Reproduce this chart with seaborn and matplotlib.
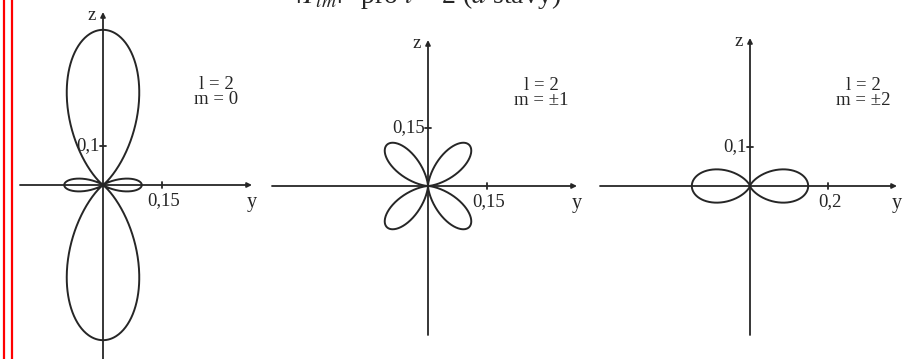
import numpy as np
import matplotlib
matplotlib.use("Agg")
import matplotlib.pyplot as plt
import seaborn as sns
from math import factorial, pi
from matplotlib.lines import Line2D

# Angular momentum quantum numbers of the three d-states
l_values = [2, 2, 2]
m_values = [0, 1, 2]
m_labels = ["0", "±1", "±2"]

# Axis ticks (value on y, value on z) and their printed labels
y_ticks = [0.15, 0.15, 0.2]
y_tick_labels = ["0,15", "0,15", "0,2"]
z_ticks = [0.1, 0.15, 0.1]
z_tick_labels = ["0,1", "0,15", "0,1"]

title = r"$|Y_{lm}|^2$ pro $l$ = 2 ($d$ stavy)"


def ylm_sq(l, m, theta):
    """|Y_lm(theta, phi)|^2 (independent of phi)."""
    x = np.cos(theta)
    p = np.polynomial.legendre.Legendre.basis(l).deriv(m)(x)
    plm = (1 - x ** 2) ** (m / 2) * p
    norm = (2 * l + 1) / (4 * pi) * factorial(l - m) / factorial(l + m)
    return norm * plm ** 2


sns.set_theme(style="white")
plt.rcParams["font.family"] = ["Liberation Serif", "DejaVu Serif"]
plt.rcParams["mathtext.fontset"] = "stix"

W, H = 915, 359
S = 390.0  # pixels per unit of |Y|^2
ink = "#262626"

fig = plt.figure(figsize=(W / 100, H / 100), dpi=100)

# panel geometry in pixels: origin (x, y from top), horizontal span, axis extents
origins = [(103, 185), (428, 186), (750, 186)]
spans = [(14, 300), (262, 605), (595, 915)]
y_axis_px = [(20, 252), (272, 577), (600, 897)]
z_axis_px = [(370, 12), (335, 40), (335, 38)]

theta = np.linspace(0, 2 * np.pi, 1441)

for i in range(3):
    cx, cy_top = origins[i]
    cy = H - cy_top
    x0, x1 = spans[i]
    ax = fig.add_axes([x0 / W, 0, (x1 - x0) / W, 1])
    ax.set_xlim((x0 - cx) / S, (x1 - cx) / S)
    ax.set_ylim(-cy / S, (H - cy) / S)
    ax.set_axis_off()
    ax.patch.set_visible(False)

    r = ylm_sq(l_values[i], m_values[i], theta)
    sns.lineplot(x=r * np.sin(theta), y=r * np.cos(theta), sort=False,
                 estimator=None, color=ink, lw=1.4, ax=ax)

    ya, yb = [(p - cx) / S for p in y_axis_px[i]]
    za, zb = [(cy_top - p) / S for p in z_axis_px[i]]
    arrow = dict(arrowstyle="-|>", color=ink, lw=1.3, mutation_scale=7,
                 shrinkA=0, shrinkB=0)
    ax.annotate("", xy=(yb, 0), xytext=(ya, 0), arrowprops=arrow)
    ax.annotate("", xy=(0, zb), xytext=(0, za), arrowprops=arrow)

    d = 3 / S
    ax.plot([y_ticks[i]] * 2, [-d, d], color=ink, lw=1.3)
    ax.plot([-d, d], [z_ticks[i]] * 2, color=ink, lw=1.3)
    ax.text(y_ticks[i] + 2 / S, -7 / S, y_tick_labels[i], ha="center", va="top",
            fontsize=13.5, color=ink)
    ax.text(-3 / S, z_ticks[i], z_tick_labels[i], ha="right", va="center",
            fontsize=13.5, color=ink)

    ax.text(-7 / S, zb - 3 / S, "z", ha="right", va="center", fontsize=13.5, color=ink)
    ax.text(yb, -8 / S, "y", ha="center", va="top", fontsize=14.5, color=ink)

    ax.text(113 / S, 93 / S, f"l = {l_values[i]}\nm = {m_labels[i]}",
            ha="center", va="center", fontsize=13.5, color=ink, linespacing=0.9)

fig.text(428 / W, 1 - 4.5 / H, title, ha="center", va="baseline", fontsize=20,
         color=ink)

for xp in (3.5, 11.5):
    fig.add_artist(Line2D([xp / W, xp / W], [0, 1], color="red", lw=1.6))

fig.savefig("out.png", dpi=100)
